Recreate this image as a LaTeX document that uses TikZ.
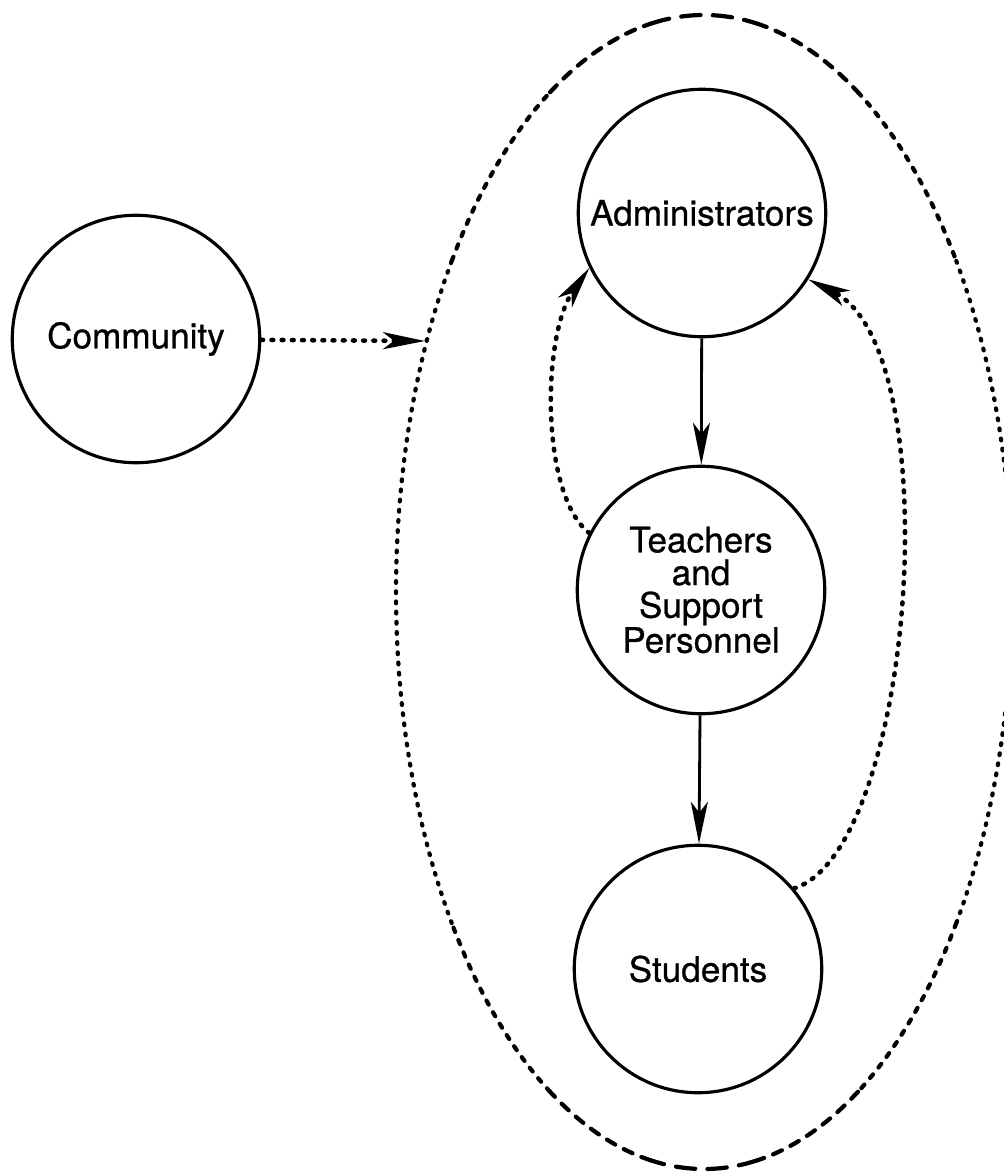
\documentclass[tikz,border=0pt]{standalone}
\usepackage{fontspec}
\setmainfont{TeX Gyre Heros}[FakeBold=0.7]
\usetikzlibrary{arrows.meta}
\tikzset{
	party/.style={circle,draw,line width=1.8pt,minimum size=4.95cm,inner sep=0pt,
		align=center,font=\fontsize{20}{18.6}\selectfont},
	dotline/.style={line width=2.6pt,line cap=round,dash pattern=on 1pt off 4.8pt},
	pointer/.style={-{Stealth[length=0.84cm,width=0.34cm,inset=0.22cm]}}
}
\begin{document}
\begin{tikzpicture}[x=0.02cm,y=-0.02cm]
	\useasboundingbox (0,0) rectangle (1003,1175);
	\path
	(704,592) coordinate (S)
	(425,341) coordinate (entry);
	% the school
	\foreach \a/\b/\dl/\gl in {-35/35/1/4.8,145/215/1/4.8,
		35/60/2.6/5,120/145/2.6/5,215/240/2.6/5,300/325/2.6/5,
		60/80/5.5/5.5,100/120/5.5/5.5,240/260/5.5/5.5,280/300/5.5/5.5,
		80/100/11/7,260/280/11/7}
	\draw[line width=2.4pt,line cap=round,dash pattern=on \dl pt off \gl pt]
	(S) ++(\a:308 and 577) arc[start angle=\a,end angle=\b,x radius=308,y radius=577];
	\node[party] (community) at (136,339) {Community};
	\node[party] (admin) at (702,213) {Administrators};
	\node[party] (teachers) at (701,590) {Teachers\\and\\Support\\Personnel};
	\node[party] (students) at (698,969) {Students};
	\draw[line width=1.6pt,pointer] (admin)--(teachers);
	\draw[line width=1.6pt,pointer] (teachers)--(students);
	\draw[dotline,pointer] (community)--(entry);
	\draw[dotline,pointer] (teachers.153) .. controls (540,495) and (542,335) .. (admin.206);
	\draw[dotline,pointer] (students.40) .. controls (915,850) and (950,350) .. (admin.-32);
\end{tikzpicture}
\end{document}
